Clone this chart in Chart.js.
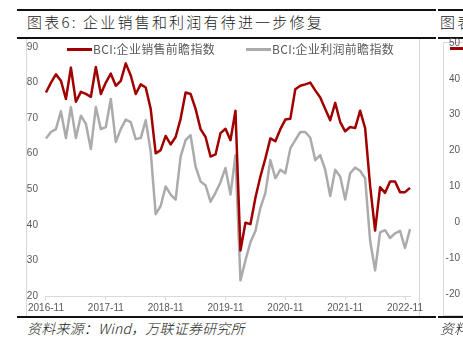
<!DOCTYPE html>
<html lang="zh-CN">
<head>
<meta charset="utf-8">
<title>企业销售和利润有待进一步修复</title>
<script src="https://cdn.jsdelivr.net/npm/chart.js@4.4.0/dist/chart.umd.min.js"></script>
<style>
  html, body { margin: 0; padding: 0; background: #fff; }
  body {
    width: 463px; height: 345px; position: relative; overflow: hidden;
    font-family: "Noto Sans CJK SC", "Liberation Sans", sans-serif;
  }
  .rule { position: absolute; height: 2px; background: #111; }
  .title {
    position: absolute; top: 12px; font-size: 15px; line-height: 20px; font-weight: 300;
    color: #222; white-space: nowrap; letter-spacing: 2.2px;
  }
  .frame { position: absolute; border: 1px solid #d9d9d9; border-top: none; border-bottom: none; }
  .source {
    position: absolute; top: 319px; font-size: 14px; line-height: 18px; color: #222;
    font-style: italic; letter-spacing: 0.2px; white-space: nowrap; font-weight: 300;
  }
  #mainBox { position: absolute; left: 26px; top: 33px; width: 400px; height: 283px; }
  #sideBox { position: absolute; left: 443px; top: 36px; width: 120px; height: 278px; }
  .legend {
    position: absolute; left: 67px; top: 41px; display: flex; gap: 31px;
    font-size: 12px; line-height: 16px; color: #595959; white-space: nowrap; letter-spacing: 0.3px;
  }
  .legend-item { display: flex; align-items: center; }
  .legend-line { width: 25px; height: 3px; margin-right: 1px; }
  .side-key { position: absolute; left: 450px; top: 47px; width: 20px; height: 3px; background: #a00000; }
</style>
</head>
<body>
<!-- 图表6 -->
<div class="rule" style="left:17px; top:9px; width:419px;"></div>
<div class="title" style="left:27px;">图表6: 企业销售和利润有待进一步修复</div>
<div class="frame" style="left:26px; top:39px; width:392px; height:277px;"></div>
<div id="mainBox"><canvas id="bciChart" width="400" height="283"></canvas></div>
<div class="rule" style="left:17px; top:37px; width:419px;"></div>
<div class="legend" id="bciLegend"></div>
<div class="rule" style="left:17px; top:316px; width:419px;"></div>
<div class="source" style="left:27px;">资料来源：Wind，万联证券研究所</div>

<!-- 右侧下一张图的开头 -->
<div class="rule" style="left:438px; top:9px; width:30px;"></div>
<div class="title" style="left:440px;">图表7</div>
<div class="rule" style="left:438px; top:37px; width:30px;"></div>
<div class="frame" style="left:443px; top:42px; width:60px; height:272px; border-top:1px solid #d9d9d9; border-bottom:1px solid #d9d9d9;"></div>
<div id="sideBox"><canvas id="sideChart" width="120" height="278"></canvas></div>
<div class="side-key"></div>
<div class="rule" style="left:438px; top:316px; width:30px;"></div>
<div class="source" style="left:440px;">资料来源</div>

<script>
// 月份：2016-11 至 2022-12
const startYear = 2016;
const startMonth = 11;
const monthCount = 74;
const months = [];
for (let i = 0; i < monthCount; i++) {
  const m = startMonth - 1 + i;
  const y = startYear + Math.floor(m / 12);
  months.push(y + '-' + String(m % 12 + 1).padStart(2, '0'));
}

// 横轴只标注每年11月
const xTickLabels = ['2016-11', '2017-11', '2018-11', '2019-11', '2020-11', '2021-11', '2022-11'];
const yTicks = [20, 30, 40, 50, 60, 70, 80, 90];

const seriesNames = ['BCI:企业销售前瞻指数', 'BCI:企业利润前瞻指数'];
const seriesColors = ['#a00000', '#ababab'];

// BCI:企业销售前瞻指数
const salesIndex = [
  77.2, 80.0, 82.3, 80.5, 75.4, 84.2, 74.6, 77.4, 76.8, 76.0, 84.4, 76.8,
  80.0, 82.5, 79.1, 80.5, 85.4, 82.0, 76.8, 79.5, 78.6, 72.6, 60.1, 61.0,
  65.0, 62.6, 64.7, 69.8, 77.2, 76.8, 72.6, 66.9, 64.7, 59.2, 59.8, 65.8,
  67.0, 63.8, 72.1, 32.8, 40.6, 40.2, 47.6, 53.6, 58.7, 64.3, 63.5, 66.9,
  69.6, 69.8, 78.1, 79.1, 79.5, 80.0, 77.8, 75.8, 72.6, 69.4, 74.3, 68.9,
  66.3, 67.5, 67.2, 72.1, 67.2, 51.0, 38.4, 50.6, 49.0, 52.2, 52.2, 49.2,
  49.2, 50.4
];

// BCI:企业利润前瞻指数
const profitIndex = [
  64.3, 66.1, 66.9, 71.9, 64.4, 73.1, 64.4, 70.7, 68.4, 61.3, 73.1, 66.9,
  67.5, 75.4, 63.3, 66.9, 69.6, 68.9, 64.1, 64.4, 69.4, 60.6, 43.0, 45.3,
  50.8, 48.5, 47.1, 59.2, 63.8, 65.2, 56.4, 52.2, 51.1, 46.5, 49.0, 52.0,
  56.0, 48.5, 59.6, 24.4, 30.0, 35.1, 38.3, 44.8, 49.0, 58.2, 53.1, 55.5,
  54.5, 61.5, 63.8, 66.1, 66.1, 64.5, 58.2, 59.6, 55.5, 48.1, 55.5, 53.6,
  47.1, 54.5, 56.1, 55.2, 53.1, 35.6, 27.2, 37.9, 38.5, 36.3, 37.6, 38.3,
  33.5, 38.8
];

// 右侧图表7的纵轴刻度
const sideTicks = [-20, -10, 0, 10, 20, 30, 40, 50];

const axisGray = '#d9d9d9';
const labelGray = '#595959';
const tickFont = { family: 'Liberation Sans', size: 10 };

function buildLegend(chart, el) {
  chart.data.datasets.forEach(ds => {
    const item = document.createElement('div');
    item.className = 'legend-item';
    const line = document.createElement('span');
    line.className = 'legend-line';
    line.style.background = ds.borderColor;
    const text = document.createElement('span');
    text.textContent = ds.label;
    item.appendChild(line);
    item.appendChild(text);
    el.appendChild(item);
  });
}

function initCharts() {
  const ctx = document.getElementById('bciChart').getContext('2d');
  const bciChart = new Chart(ctx, {
    type: 'line',
    data: {
      labels: months,
      datasets: [
        { label: seriesNames[0], data: salesIndex, borderColor: seriesColors[0], borderWidth: 2.5 },
        { label: seriesNames[1], data: profitIndex, borderColor: seriesColors[1], borderWidth: 2.5 }
      ]
    },
    options: {
      responsive: false,
      animation: false,
      devicePixelRatio: 1,
      layout: { padding: { top: 0, right: 16, left: 0, bottom: 0 } },
      elements: { point: { radius: 0 }, line: { tension: 0, borderJoinStyle: 'round' } },
      plugins: { legend: { display: false }, tooltip: { enabled: false } },
      scales: {
        x: {
          type: 'category',
          offset: false,
          border: { display: true, color: axisGray, width: 1 },
          grid: {
            drawOnChartArea: false,
            tickLength: 4,
            color: c => xTickLabels.includes(months[c.index]) ? axisGray : 'rgba(0,0,0,0)'
          },
          ticks: {
            autoSkip: false,
            maxRotation: 0,
            padding: 2,
            color: labelGray,
            font: tickFont,
            callback: (v, i) => xTickLabels.includes(months[i]) ? months[i] : ''
          }
        },
        y: {
          min: yTicks[0],
          max: yTicks[yTicks.length - 1],
          border: { display: false },
          grid: { display: false, drawTicks: false },
          ticks: { stepSize: 10, padding: 8, color: labelGray, font: tickFont },
          afterFit: s => { s.width = 19; }
        }
      }
    }
  });
  buildLegend(bciChart, document.getElementById('bciLegend'));

  // 图表7只露出纵轴
  new Chart(document.getElementById('sideChart').getContext('2d'), {
    type: 'line',
    data: { labels: [''], datasets: [] },
    options: {
      responsive: false,
      animation: false,
      devicePixelRatio: 1,
      layout: { padding: { top: 0, bottom: 20 } },
      plugins: { legend: { display: false }, tooltip: { enabled: false } },
      scales: {
        x: { display: false },
        y: {
          min: sideTicks[0],
          max: sideTicks[sideTicks.length - 1],
          border: { display: false },
          grid: { display: false, drawTicks: false },
          ticks: { stepSize: 10, padding: 1, color: labelGray, font: tickFont },
          afterFit: s => { s.width = 18; }
        }
      }
    }
  });
}

document.addEventListener('DOMContentLoaded', initCharts);
</script>
</body>
</html>
